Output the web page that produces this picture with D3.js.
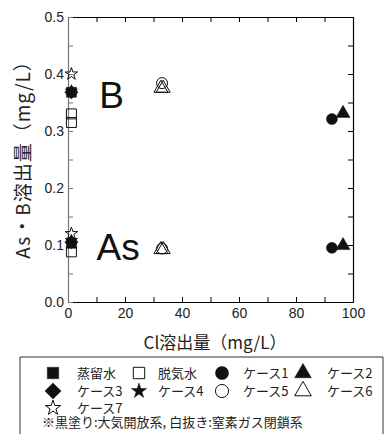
<!DOCTYPE html>
<html><head><meta charset="utf-8">
<script src="https://cdn.jsdelivr.net/npm/d3@7"></script>
<style>body{margin:0;background:#fff}svg{display:block}</style>
</head><body>
<svg id="c" width="390" height="434"></svg>
<script>
// ---- data ----
const seriesNames = ["蒸留水","脱気水","ケース1","ケース2","ケース3","ケース4","ケース5","ケース6","ケース7"];
const seriesShapes = ["square","square","circle","triangle","diamond","star","circle","triangle","star"];
const seriesFilled = [true,false,true,true,true,true,false,false,false];
// points: series index, Cl (mg/L), concentration (mg/L)
const pointSeries = [0,0, 1,1,1, 2,2, 3,3, 4,4, 5,5, 6,6, 7,7,7,7, 8,8];
const pointCl     = [1.2,1.2, 1.2,1.2,1.2, 92.6,92.6, 96.5,96.5, 1.2,1.2, 1.2,1.2, 33,33, 32.6,33.4,32.6,33.4, 1.2,1.2];
const pointConc   = [0.368,0.103, 0.330,0.315,0.088, 0.321,0.095, 0.331,0.099, 0.368,0.105, 0.370,0.108, 0.384,0.094, 0.375,0.375,0.092,0.092, 0.400,0.120];
const xTicks = [0,20,40,60,80,100];
const yTicks = [0.0,0.1,0.2,0.3,0.4,0.5];
const groupLabels = ["B","As"];
const groupLabelPos = [[11,0.34],[10,0.074]];

const svg = d3.select("#c");
const L=68,R=353,T=17,B=302;
const x = d3.scaleLinear().domain([0,100]).range([L,R]);
const y = d3.scaleLinear().domain([0,0.5]).range([B,T]);
const font = "'Liberation Sans', Arial, sans-serif";
const jfont = "'Noto Sans CJK JP', sans-serif";

const symbolRhomb = {draw(ctx,size){const r=Math.sqrt(size/2);ctx.moveTo(0,-r);ctx.lineTo(r,0);ctx.lineTo(0,r);ctx.lineTo(-r,0);ctx.closePath();}};
const shapeMap = {square:d3.symbolSquare,circle:d3.symbolCircle,triangle:d3.symbolTriangle,diamond:symbolRhomb,star:d3.symbolStar};
const sizeMap = {square:100,circle:95,triangle:85,diamond:90,star:48};
const legSizeMap = {square:130,circle:135,triangle:120,diamond:130,star:72};

// axes
const gx = svg.append("g").attr("transform",`translate(0,${B})`)
  .call(d3.axisBottom(x).tickValues(d3.range(0,101,10)).tickSizeInner(-5).tickSizeOuter(0).tickFormat(d=>xTicks.includes(d)?d:""));
const gxt = svg.append("g").attr("transform",`translate(0,${T})`)
  .call(d3.axisTop(x).tickValues(d3.range(0,101,10)).tickSizeInner(-5).tickSizeOuter(0).tickFormat(""));
const gy = svg.append("g").attr("transform",`translate(${L},0)`)
  .call(d3.axisLeft(y).tickValues(d3.range(0,0.501,0.05)).tickSizeInner(-5).tickSizeOuter(0)
    .tickFormat(d=>{const r=Math.round(d*100)/100; return yTicks.some(t=>Math.abs(t-r)<1e-6)?r.toFixed(1):"";}));
const gyr = svg.append("g").attr("transform",`translate(${R},0)`)
  .call(d3.axisRight(y).tickValues(d3.range(0,0.501,0.05)).tickSizeInner(-5).tickSizeOuter(0).tickFormat(""));
[gx,gxt,gy,gyr].forEach(g=>{
  g.select(".domain").attr("stroke","#000").attr("stroke-width",1.2);
  g.selectAll(".tick line").attr("stroke","#000");
  g.selectAll("text").attr("font-family",font).attr("font-size",14).attr("fill","#222");
});
gy.select(".domain").attr("stroke","#777");
gy.selectAll(".tick line").attr("stroke","#777");
gx.selectAll("text").attr("dy","0.95em");
gy.selectAll("text").attr("dx","-1px");

// group labels
svg.selectAll(".glab").data(groupLabels).join("text")
  .attr("x",(d,i)=>x(groupLabelPos[i][0])).attr("y",(d,i)=>y(groupLabelPos[i][1]))
  .attr("font-family",font).attr("font-size",37).attr("fill","#111").text(d=>d);

// points
const pts = pointSeries.map((s,i)=>({s,cl:pointCl[i],c:pointConc[i]}));
const order = [1,6,7,0,4,5,2,3,8];
const sorted = pts.slice().sort((a,b)=>order.indexOf(a.s)-order.indexOf(b.s));
svg.append("g").selectAll("path").data(sorted).join("path")
  .attr("transform",d=>`translate(${x(d.cl)},${y(d.c)})`)
  .attr("d",d=>d3.symbol(shapeMap[seriesShapes[d.s]],sizeMap[seriesShapes[d.s]])())
  .attr("fill",d=>seriesFilled[d.s]?"#111":"none")
  .attr("stroke","#111").attr("stroke-width",d=>seriesFilled[d.s]?0.5:1);

// axis titles
svg.append("text").attr("transform","translate(30,155) rotate(-90)").attr("text-anchor","middle")
  .attr("font-family",jfont).attr("font-size",19).attr("letter-spacing","1px").attr("fill","#222").text("As・B溶出量（mg/L）");
svg.append("text").attr("x",215).attr("y",349).attr("text-anchor","middle")
  .attr("font-family",jfont).attr("font-size",17).attr("fill","#222").text("Cl溶出量（mg/L）");

// legend
const lg = svg.append("g");
lg.append("path").attr("d","M20,440 V357 H383 V440").attr("fill","none").attr("stroke","#333").attr("stroke-width",1);
const legCols = [[53,77],[139,158],[222,243],[303,327]];
const legRows = [373,391,408];
seriesNames.forEach((name,s)=>{
  const row=Math.floor(s/4), col=s%4;
  const cx=legCols[col][0], cy=legRows[row];
  lg.append("path").attr("transform",`translate(${cx},${cy})`)
    .attr("d",d3.symbol(shapeMap[seriesShapes[s]],legSizeMap[seriesShapes[s]])())
    .attr("fill",seriesFilled[s]?"#111":"none").attr("stroke","#111").attr("stroke-width",seriesFilled[s]?0.5:1);
  lg.append("text").attr("x",legCols[col][1]).attr("y",cy+5).attr("font-family",jfont).attr("font-size",13).attr("fill","#222").text(name);
});
lg.append("text").attr("x",42).attr("y",427).attr("font-family",jfont).attr("font-size",13).attr("fill","#222").text("※黒塗り:大気開放系, 白抜き:窒素ガス閉鎖系");
</script>
</body></html>
